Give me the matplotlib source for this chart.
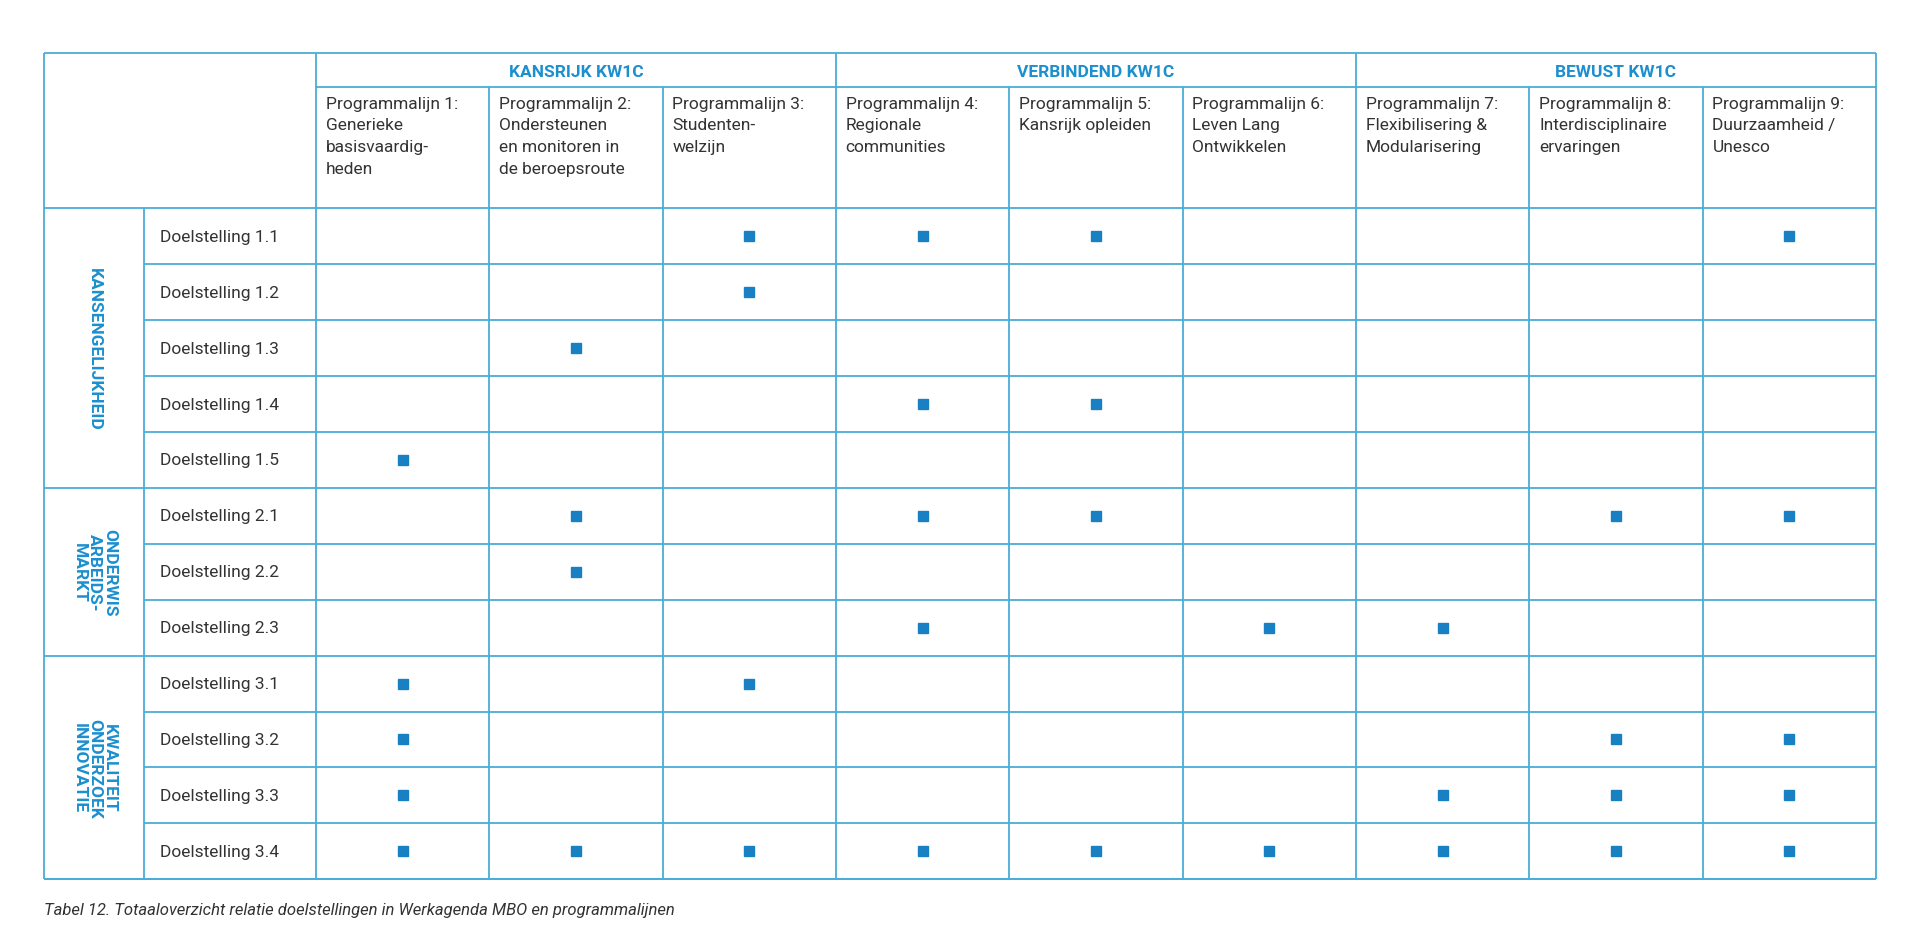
import matplotlib
matplotlib.use("Agg")
import matplotlib.pyplot as plt

groups = ["KANSRIJK KW1C", "VERBINDEND KW1C", "BEWUST KW1C"]
programs = ["Programmalijn 1:\nGenerieke\nbasisvaardig-\nheden",
            "Programmalijn 2:\nOndersteunen\nen monitoren in\nde beroepsroute",
            "Programmalijn 3:\nStudenten-\nwelzijn",
            "Programmalijn 4:\nRegionale\ncommunities",
            "Programmalijn 5:\nKansrijk opleiden",
            "Programmalijn 6:\nLeven Lang\nOntwikkelen",
            "Programmalijn 7:\nFlexibilisering &\nModularisering",
            "Programmalijn 8:\nInterdisciplinaire\nervaringen",
            "Programmalijn 9:\nDuurzaamheid /\nUnesco"]
themes = ["KANSENGELIJKHEID", "ONDERWIS\nARBEIDS-\nMARKT", "KWALITEIT\nONDERZOEK\nINNOVATIE"]
theme_rows = [5, 3, 4]
goals = ["Doelstelling 1.1", "Doelstelling 1.2", "Doelstelling 1.3", "Doelstelling 1.4", "Doelstelling 1.5",
         "Doelstelling 2.1", "Doelstelling 2.2", "Doelstelling 2.3",
         "Doelstelling 3.1", "Doelstelling 3.2", "Doelstelling 3.3", "Doelstelling 3.4"]
marks = [[3, 4, 5, 9], [3], [2], [4, 5], [1],
         [2, 4, 5, 8, 9], [2], [4, 6, 7],
         [1, 3], [1, 8, 9], [1, 7, 8, 9], [1, 2, 3, 4, 5, 6, 7, 8, 9]]
caption = "Tabel 12. Totaaloverzicht relatie doelstellingen in Werkagenda MBO en programmalijnen"

LINE = "#4aaed8"
BLUE = "#1b8fcf"
MARK = "#1a80c4"
TXT = "#333333"
FONT = "Roboto"

fig = plt.figure(figsize=(19.2, 9.28), dpi=100)
ax = fig.add_axes([0, 0, 1, 1])
ax.set_xlim(0, 1568); ax.set_ylim(758, 0); ax.axis("off")

L, X1, X2, R = 36, 118, 258, 1532
T, H1, H2, B = 44, 72, 171, 719
cw = (R - X2) / 9
rh = (B - H2) / len(goals)
lw = 1.3

def line(x0, y0, x1, y1):
    ax.plot([x0, x1], [y0, y1], color=LINE, lw=lw, solid_capstyle="butt")

line(L, T, R, T); line(L, B, R, B); line(L, T, L, B); line(R, T, R, B)
line(X2, T, X2, B)
line(X2, H1, R, H1)
line(L, H2, R, H2)
for j in range(1, 9):
    x = X2 + j * cw
    line(x, (T if j % 3 == 0 else H1), x, B)
line(X1, H2, X1, B)
r = 0
for k, n in enumerate(theme_rows):
    for i in range(n):
        r += 1
        y = H2 + r * rh
        line(X1 if i < n - 1 else L, y, R, y)

for g, name in enumerate(groups):
    ax.text(X2 + (g * 3 + 1.5) * cw, (T + H1) / 2 + 1, name, ha="center", va="center",
            color=BLUE, fontsize=12.5, fontweight="bold", family=FONT)
for j, p in enumerate(programs):
    ax.text(X2 + j * cw + 8, H1 + 7, p, ha="left", va="top", color=TXT,
            fontsize=12.5, family=FONT, linespacing=1.55)

start = 0
for k, n in enumerate(theme_rows):
    yc = H2 + (start + n / 2) * rh
    ax.text((L + X1) / 2, yc, themes[k], ha="center", va="center", rotation=-90,
            color=BLUE, fontsize=12.5, fontweight="bold", family=FONT, linespacing=1.0,
            multialignment="center")
    start += n

for i, gname in enumerate(goals):
    yc = H2 + (i + 0.5) * rh
    ax.text(X1 + 13, yc, gname, ha="left", va="center", color=TXT, fontsize=12.5, family=FONT)
    for c in marks[i]:
        ax.plot(X2 + (c - 0.5) * cw, yc, marker="s", ms=6.5, color=MARK, mec=MARK)

ax.text(L, 744, caption, ha="left", va="center", color=TXT, fontsize=12,
        family=FONT, style="italic")

fig.savefig("out.png", dpi=100)
